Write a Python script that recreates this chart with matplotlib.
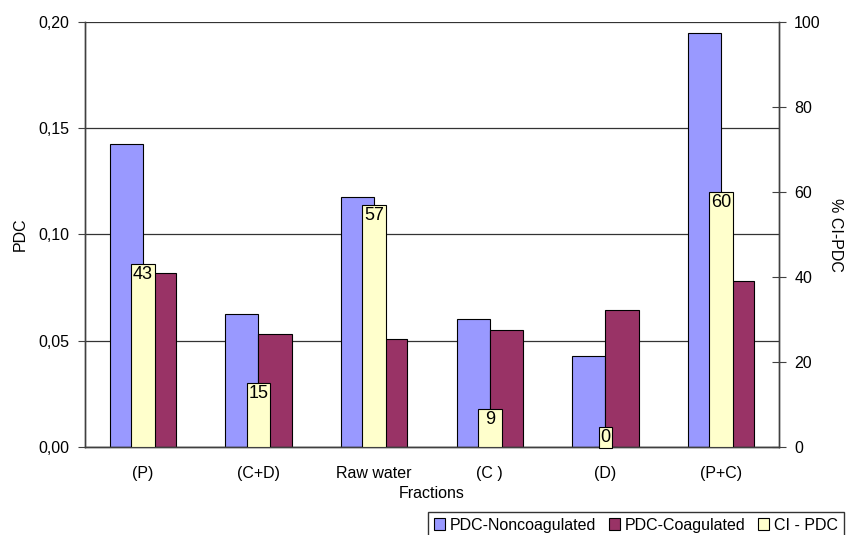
import matplotlib
matplotlib.use("Agg")
import matplotlib.pyplot as plt
import numpy as np
from matplotlib.patches import Patch

plt.rcParams["font.family"] = ["Liberation Sans", "DejaVu Sans"]
plt.rcParams["font.size"] = 11.5

fractions = ["(P)", "(C+D)", "Raw water", "(C )", "(D)", "(P+C)"]
pdc_noncoag = [0.1425, 0.0624, 0.1178, 0.0602, 0.0428, 0.1947]
pdc_coag = [0.0817, 0.0530, 0.0507, 0.0551, 0.0645, 0.0780]
ci_pdc = [43, 15, 57, 9, 0, 60]

BLUE = "#9999ff"
MAROON = "#993366"
YELLOW = "#ffffcc"
AXIS = "#404040"


def comma(v, _pos=None):
    return f"{v:.2f}".replace(".", ",")


fig = plt.figure(figsize=(8.53, 5.35), dpi=100)
ax = fig.add_axes((0.0996, 0.1645, 0.8136, 0.7944))
ax2 = ax.twinx()

x = np.arange(len(fractions))
w = 0.286
ax.bar(x - w / 2, pdc_noncoag, w, color=BLUE, edgecolor="black", lw=0.8, zorder=2)
ax.bar(x + w / 2, pdc_coag, w, color=MAROON, edgecolor="black", lw=0.8, zorder=2)
ax2.bar(x, ci_pdc, 0.205, color=YELLOW, edgecolor="black", lw=0.8, zorder=3)

# etiquetas de % CI-PDC en el extremo interior de cada barra
for xi, v in zip(x, ci_pdc):
    if v >= 6:
        ax2.text(xi, v - 0.5, f"{v}", ha="center", va="top", fontsize=13, zorder=4)
    else:
        ax2.text(xi, v + 0.3, f"{v}", ha="center", va="bottom", fontsize=13, zorder=4,
                 bbox=dict(boxstyle="square,pad=0.1", fc=YELLOW, ec="black", lw=0.8))

ax.set_xlim(-0.5, len(fractions) - 0.5)
ax.set_ylim(0, 0.20)
ax.set_yticks(np.arange(0, 0.201, 0.05))
ax.yaxis.set_major_formatter(plt.FuncFormatter(comma))
ax.set_xticks(x)
ax.set_xticklabels(fractions)
ax.tick_params(axis="x", length=0, pad=14)
ax.tick_params(axis="y", direction="out", length=5, color=AXIS, pad=6)
ax.grid(axis="y", color="#333333", lw=0.9, zorder=0)
ax.set_axisbelow(True)

ax2.set_ylim(0, 100)
ax2.set_yticks(np.arange(0, 101, 20))
ax2.tick_params(axis="y", direction="inout", length=10, color=AXIS, pad=6)

for a in (ax, ax2):
    a.spines["top"].set_visible(False)
    for s in ("left", "right", "bottom"):
        a.spines[s].set_color(AXIS)
        a.spines[s].set_linewidth(1.0)

ax.set_ylabel("PDC", labelpad=8)
ax2.set_ylabel("% CI-PDC", rotation=270, labelpad=16)
ax.set_xlabel("Fractions", labelpad=3)

handles = [Patch(fc=BLUE, ec="black", lw=0.8), Patch(fc=MAROON, ec="black", lw=0.8),
           Patch(fc=YELLOW, ec="black", lw=0.8)]
fig.legend(handles, ["PDC-Noncoagulated", "PDC-Coagulated", "CI - PDC"],
           loc="upper left", bbox_to_anchor=(428 / 853, 1 - 512 / 535), ncol=3,
           frameon=True, fancybox=False, edgecolor="black", fontsize=11.5,
           handlelength=0.7, handleheight=0.7, handletextpad=0.3, columnspacing=0.8,
           borderpad=0.35, borderaxespad=0)

fig.savefig("out.png", dpi=100)
